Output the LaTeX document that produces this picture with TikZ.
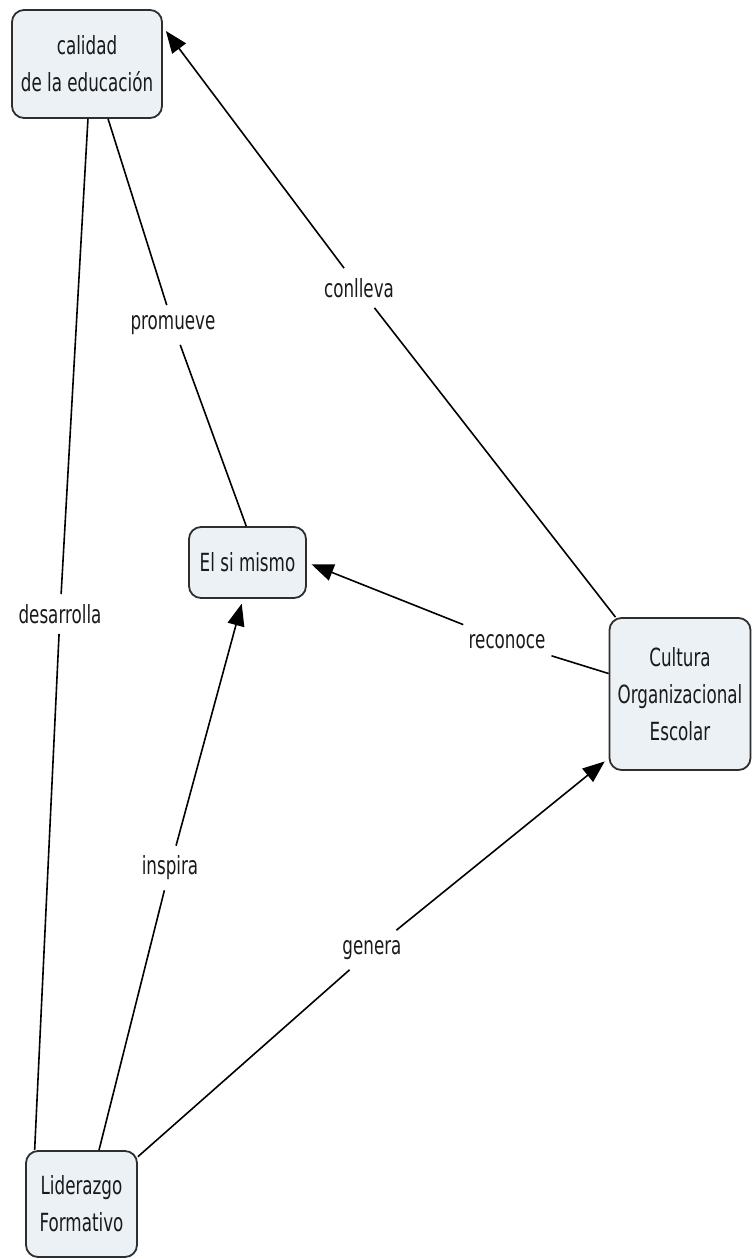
\documentclass[tikz,border=0pt]{standalone}
\usepackage{fontspec}
\setmainfont[FakeStretch=0.67]{DejaVu Sans}
\usetikzlibrary{arrows.meta}
\definecolor{conceptfill}{HTML}{EBF1F4}
\definecolor{conceptline}{HTML}{2E2E2E}
\definecolor{inktext}{HTML}{1A1A1A}
\begin{document}
\begin{tikzpicture}[x=1pt,y=-1pt,
  concept/.style={draw=conceptline, fill=conceptfill, line width=1.8pt,
    rounded corners=12pt, inner sep=0pt, align=center, text=inktext,
    font=\fontsize{25}{37}\selectfont},
  linkword/.style={inner xsep=6pt, inner ysep=10pt, text=inktext,
    font=\fontsize{25}{37}\selectfont},
  link/.style={line width=1.6pt, draw=black},
  tip/.style={link, -{Triangle[length=22pt,width=17pt]}, shorten >=5pt}]
\useasboundingbox (0,0) rectangle (752,1259);

% concepts
\node[concept, minimum width=150pt, minimum height=108pt] (cal) at (87,64)
  {calidad\\de la educación};
\node[concept, minimum width=117pt, minimum height=71pt] (els) at (247.5,562.5)
  {El si mismo};
\node[concept, minimum width=141pt, minimum height=152pt] (cul) at (680,694)
  {Cultura\\Organizacional\\Escolar};
\node[concept, minimum width=111pt, minimum height=106pt] (lid) at (81.5,1204)
  {Liderazgo\\Formativo};

% linking words
\node[linkword] (w1) at (60,614) {desarrolla};
\node[linkword] (w2) at (173,325) {promueve};
\node[linkword] (w3) at (359,288) {conlleva};
\node[linkword] (w4) at (507,642) {reconoce};
\node[linkword] (w5) at (170,868) {inspira};
\node[linkword] (w6) at (372,950) {genera};

% connections
\draw[link] (lid.131) -- (w1);
\draw[link] (w1) -- (cal.271);

\draw[link] (cal.291) -- (w2);
\draw[link] (w2) -- (els.92);

\draw[link] (cul.130) -- (w3);
\draw[tip] (w3) -- (cal.26);

\draw[link] (cul.164) -- (w4);
\draw[tip] (w4) -- (els.east);

\draw[link] (lid.72) -- (w5);
\draw[tip] (w5) -- (els.263);

\draw[link] (lid.40) -- (w6);
\draw[tip] (w6) -- (cul.222);
\end{tikzpicture}
\end{document}
